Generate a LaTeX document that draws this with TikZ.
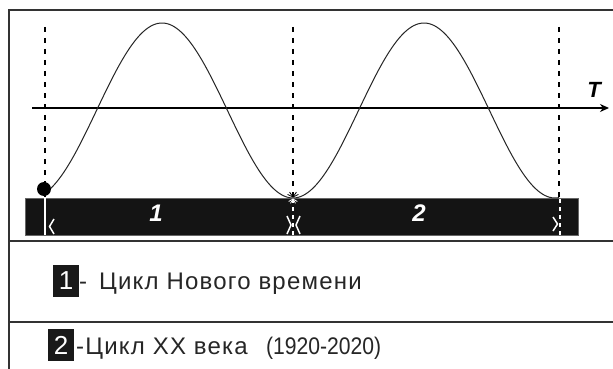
\documentclass[tikz,border=0pt]{standalone}
\usepackage{fontspec}
\setmainfont{Liberation Sans}
\usetikzlibrary{arrows.meta}
\begin{document}
\begin{tikzpicture}[x=1pt,y=-1pt,
  frame/.style={line width=1.8pt, draw=black!80},
  vguide/.style={line width=1.3pt, dash pattern=on 5pt off 6pt},
  wguide/.style={white, line width=1.3pt, dash pattern=on 4pt off 4pt},
  chev/.style={white, line width=1.5pt},
  curve/.style={line width=1pt, black!85},
  barbox/.style={fill=black!92, draw=black!60, line width=0.6pt, minimum width=553pt, minimum height=37pt, inner sep=0pt},
  barlabel/.style={text=white, inner sep=0pt, font=\fontsize{24}{24}\selectfont\bfseries\itshape},
  legbox/.style={fill=black!90, text=white, minimum width=26pt, minimum height=32pt, inner sep=0pt, font=\fontsize{26}{26}\selectfont},
  legtext/.style={anchor=base west, inner sep=0pt, text=black!85, font=\fontsize{24}{24}\selectfont\addfontfeature{LetterSpace=5}}
]
\useasboundingbox (0,0) rectangle (613,369);
\fill[white] (0,0) rectangle (613,369);
% frame
\draw[frame] (9,369) -- (9,10) -- (613,10);
\draw[frame] (9,241) -- (613,241);
\draw[frame] (9,322) -- (613,322);
% bar
\node[barbox] (bar) at (301.5,216.5) {};
% axis
\coordinate (a0) at (32,108);
\coordinate (a1) at (609,108);
\draw[line width=1.5pt, -{Stealth[length=9pt,width=8pt]}] (a0) -- (a1);
\node[inner sep=0pt, font=\fontsize{22}{22}\selectfont\bfseries\itshape] (T) at (594,90) {T};
% guides
\coordinate (g1t) at (45,27);  \coordinate (g1b) at (45,198);
\coordinate (g2t) at (293,27); \coordinate (g2b) at (293,198);
\coordinate (g3t) at (559,27); \coordinate (g3b) at (559,198);
\draw[vguide] (g1t) -- (g1b);
\draw[vguide] (g2t) -- (g2b);
\draw[vguide] (g3t) -- (g3b);
% curve
\draw[curve] plot[domain=45:559, samples=220] (\x, {110.5+87.5*cos(((\x-293)/262)*360)});
\fill (44,189) circle (7pt);
% marks inside bar
\draw[white, line width=1.6pt] (45,198) -- (45,235);
\draw[wguide] (293,199) -- (293,235);
\draw[wguide] (560,199) -- (560,235);
\draw[chev] (54,219) -- (49.5,226.5) -- (54,234);
\draw[chev] (287,216) -- (291,225) -- (287,234);
\draw[chev] (300,216) -- (296,225) -- (300,234);
\draw[chev] (553,217) -- (557.5,224) -- (553,231);
% starburst at minimum
\foreach \a in {25,55,125,155} \draw[line width=0.8pt] (293,197) -- ++(\a:-6);
\foreach \a in {-30,-60,-120,-150} \draw[white, line width=0.8pt] (293,199) -- ++(\a:-5);
% bar labels
\node[barlabel] (n1) at (156,213) {1};
\node[barlabel] (n2) at (419,213) {2};
% legend
\node[legbox] (b1) at (66,281) {1};
\node[legtext] (t1) at (79,289) {-\hspace{12pt}Цикл Нового времени};
\node[legbox] (b2) at (61,345) {2};
\node[legtext] (t2) at (76,354) {-Цикл XX века};
\node[anchor=base west, inner sep=0pt, text=black!85, font=\fontsize{24}{24}\selectfont\addfontfeature{FakeStretch=0.88}] (t3) at (266,354) {(1920-2020)};
\end{tikzpicture}
\end{document}
